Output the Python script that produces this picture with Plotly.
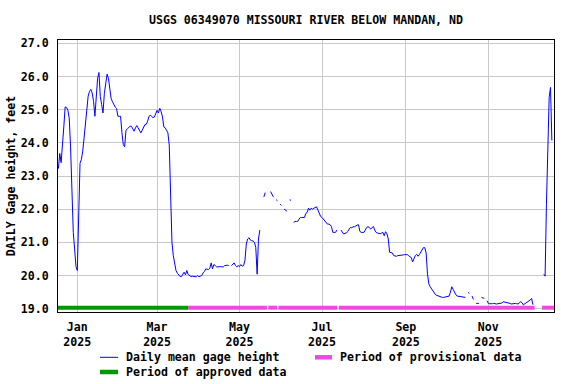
import pandas as pd
import plotly.graph_objects as go

# ---------------- data (daily mean gage height, feet; None = no data) -------------
start_date = "2024-12-18"
dec_2024 = [23.22, 23.68, 23.40, 23.85, 24.48, 25.08, 25.07, 24.98, 24.75, 23.90,
            22.30, 21.30, 20.80, 20.27]
jan = [20.15, 21.60, 23.38, 23.50, 23.75, 24.15, 24.55, 24.78, 25.40, 25.55,
       25.61, 25.50, 25.25, 24.80, 25.55, 25.94, 26.12, 25.40, 25.15, 24.90,
       25.49, 25.89, 26.07, 25.95, 25.70, 25.34, 25.24, 25.14, 25.08, 25.04, 24.80]
feb = [24.80, 24.80, 24.30, 23.95, 23.88, 24.38, 24.42, 24.45, 24.50, 24.50,
       24.42, 24.35, 24.45, 24.52, 24.45, 24.38, 24.30, 24.38, 24.50, 24.55,
       24.56, 24.65, 24.80, 24.83, 24.80, 24.76, 24.78, 24.92]
mar = [24.98, 24.90, 25.04, 24.94, 24.78, 24.48, 24.45, 24.38, 24.30, 23.93,
       22.10, 21.00, 20.60, 20.35, 20.15, 20.07, 20.02, 19.97, 19.97, 20.05,
       20.10, 20.02, 20.15, 20.03, 20.00, 19.97, 19.98, 19.97, 19.97, 19.96, 20.00]
apr = [19.96, 19.98, 20.00, 20.08, 20.12, 20.20, 20.20, 20.18, 20.22, 20.38,
       20.20, 20.33, 20.30, 20.26, 20.26, 20.27, 20.27, 20.26, 20.26, 20.30,
       20.31, 20.31, 20.30, None, 20.30, 20.34, 20.38, 20.30, 20.26, 20.30]
may = [20.27, 20.33, 20.28, 20.30, 20.46, 20.95, 21.10, 21.14, 21.07, 21.05,
       21.04, 21.00, 20.85, 20.04, 21.10, 21.37, None, None, 22.37, 22.50,
       None, None, None, 22.53, 22.45, 22.37, None, 22.29, 22.25, None, 22.15]
jun = [22.11, None, 22.00, 21.97, 21.94, None, 22.28, 22.27, None, 21.60,
       21.63, 21.63, 21.63, 21.70, 21.75, 21.75, 21.75, 21.75, 21.87, 21.90,
       22.03, 21.97, 22.03, 22.00, 22.03, 22.05, 22.07, 21.97, 21.85, 21.78]
jul = [21.75, 21.70, 21.62, 21.57, 21.55, 21.55, 21.53, 21.47, 21.30, 21.30,
       21.30, 21.37, None, None, 21.37, 21.30, 21.25, 21.27, 21.28, 21.33,
       21.40, 21.45, 21.44, 21.47, 21.47, 21.50, 21.52, 21.53, 21.33, 21.30, 21.30]
aug = [21.30, 21.37, 21.45, 21.47, 21.45, 21.40, 21.45, 21.48, 21.37, 21.30,
       21.28, 21.27, 21.26, 21.28, 21.30, 21.20, 21.32, 21.26, 21.10, 20.70,
       20.68, 20.68, 20.60, 20.58, 20.58, 20.60, 20.60, 20.60, 20.60, 20.62, 20.63]
sep = [20.63, 20.63, 20.60, 20.58, 20.54, 20.41, 20.54, 20.60, 20.64, 20.58,
       20.63, 20.70, 20.76, 20.84, 20.84, 20.68, 20.05, 19.75, 19.66, 19.60,
       19.54, 19.47, 19.42, 19.40, 19.38, 19.36, 19.35, 19.34, 19.34, 19.35]
oct = [19.34, 19.36, 19.38, 19.50, 19.66, 19.58, 19.48, 19.42, 19.38, 19.37,
       19.36, 19.35, 19.35, 19.34, 19.34, None, 19.49, 19.46, None, 19.38,
       19.28, None, 19.16, 19.16, 19.16, None, 19.34, 19.33, 19.31, None, 19.24]
nov = [19.16, 19.15, 19.14, 19.15, 19.16, 19.14, 19.14, 19.15, 19.16, 19.16,
       19.17, 19.21, 19.20, 19.19, 19.20, 19.18, 19.16, 19.14, 19.15, 19.16,
       19.16, 19.15, 19.14, 19.18, 19.21, 19.18, 19.11, 19.15, 19.18, 19.20]
dec_2025 = [19.22, 19.26, 19.31, 19.12, None, None, None, None, None, None,
            None, 20.04, 19.98, 22.15, 24.20, 25.37, 25.67, 24.07]

gage_height = (dec_2024 + jan + feb + mar + apr + may + jun + jul + aug + sep
               + oct + nov + dec_2025)
gage_dates = pd.date_range(start_date, periods=len(gage_height), freq="D")

# data-quality periods (start, end)
approved_starts = ["2024-12-17 12:00"]
approved_ends = ["2025-03-24 00:00"]
provisional_starts = ["2025-03-24 00:00", "2025-05-22 06:00", "2025-05-29 18:00",
                      "2025-07-13 12:00", "2025-12-10 18:00"]
provisional_ends = ["2025-05-21 06:00", "2025-05-28 18:00", "2025-07-12 06:00",
                    "2025-12-05 06:00", "2025-12-19 14:00"]
period_level = 19.03

x_range = ["2024-12-17 17:00", "2025-12-19 14:00"]
y_ticks = [19.0, 20.0, 21.0, 22.0, 23.0, 24.0, 25.0, 26.0, 27.0]

title_text = "USGS 06349070 MISSOURI RIVER BELOW MANDAN, ND"
y_title = "DAILY Gage height, feet"
legend_labels = ["Daily mean gage height", "Period of provisional data",
                 "Period of approved data"]

# ---------------- styling --------------------------------------------------------
FONT = "DejaVu Sans Mono"
FS = 11.6
BLUE = "#0000ff"
GREEN = "#009a00"
MAGENTA = "#f049e0"


def segments(starts, ends, level):
    xs, ys = [], []
    for s, e in zip(starts, ends):
        xs += [s, e, None]
        ys += [level, level, None]
    return xs, ys


fig = go.Figure()

ax, ay = segments(approved_starts, approved_ends, period_level)
fig.add_trace(go.Scatter(x=ax, y=ay, mode="lines", line=dict(color=GREEN, width=4),
                         hoverinfo="skip", showlegend=False, cliponaxis=False))
px_, py_ = segments(provisional_starts, provisional_ends, period_level)
fig.add_trace(go.Scatter(x=px_, y=py_, mode="lines", line=dict(color=MAGENTA, width=4),
                         hoverinfo="skip", showlegend=False))
fig.add_trace(go.Scatter(x=gage_dates, y=gage_height, mode="lines",
                         line=dict(color=BLUE, width=1), connectgaps=False,
                         showlegend=False, name=legend_labels[0]))

font = dict(family=FONT, size=FS, color="black", weight="bold")

fig.update_layout(
    width=576, height=384,
    margin=dict(l=58, r=22, t=40, b=72, autoexpand=False),
    paper_bgcolor="white", plot_bgcolor="white",
    font=font,
    title=dict(text=title_text, x=0.5, xref="paper", y=1 - 19.5 / 384,
               yref="container", yanchor="middle", xanchor="center", font=font,
               automargin=False),
    showlegend=False,
)
fig.update_xaxes(
    type="date", range=x_range, tick0="2025-01-01", dtick="M2",
    tickformat="%b<br>%Y", showgrid=True, gridcolor="#c8c8c8", gridwidth=1,
    showline=True, linecolor="black", linewidth=1, mirror=True, ticks="",
    tickfont=font, zeroline=False, ticklabelstandoff=4, automargin=False,
)
fig.update_yaxes(
    range=[18.9, 27.1], tickvals=y_ticks, tickformat=".1f",
    showgrid=True, gridcolor="#c8c8c8", gridwidth=1,
    showline=True, linecolor="black", linewidth=1, mirror=True, ticks="",
    tickfont=font, zeroline=False, ticklabelstandoff=6, automargin=False,
    title=dict(text=y_title, font=font, standoff=2),
)

# manual legend
def px_to_paper_x(X):
    return (X - 58) / 496


def py_to_paper_y(Y):
    return (312 - Y) / 272


legend_items = [
    (100, 118, 357.3, BLUE, 1, 123.5, legend_labels[0]),
    (315, 332, 357.3, MAGENTA, 4.5, 338.0, legend_labels[1]),
    (100, 118, 372.0, GREEN, 4.5, 123.5, legend_labels[2]),
]
for x0, x1, yy, col, w, tx, label in legend_items:
    fig.add_shape(type="line", xref="paper", yref="paper",
                  x0=px_to_paper_x(x0), x1=px_to_paper_x(x1),
                  y0=py_to_paper_y(yy), y1=py_to_paper_y(yy),
                  line=dict(color=col, width=w))
    fig.add_annotation(text=label, xref="paper", yref="paper",
                       x=px_to_paper_x(tx), y=py_to_paper_y(yy),
                       xanchor="left", yanchor="middle", showarrow=False,
                       font=font)

fig.write_html("out.html", config={"displayModeBar": False},
               post_script="document.body.style.margin='0';"
                           "document.body.style.padding='0';")
